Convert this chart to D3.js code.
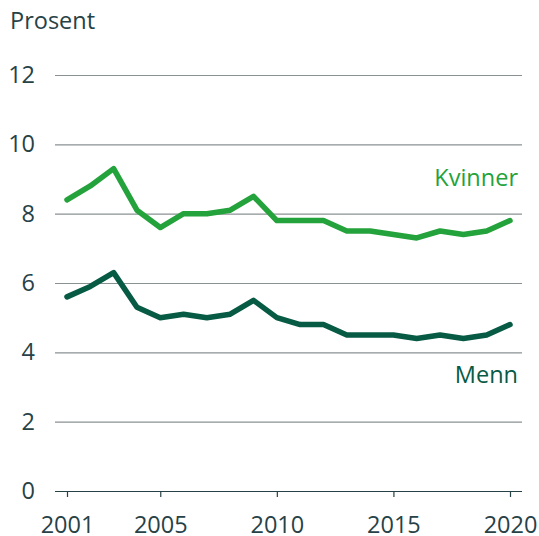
<!DOCTYPE html>
<html>
<head>
<meta charset="utf-8">
<script src="https://cdn.jsdelivr.net/npm/d3@7"></script>
<style>
  body { margin: 0; background: #fff; }
  svg { display: block; font-family: "Open Sans", sans-serif; }
</style>
</head>
<body>
<svg id="chart" width="539" height="536"></svg>
<script>
const years = d3.range(2001, 2021);
const kvinner = [8.4, 8.8, 9.3, 8.1, 7.6, 8.0, 8.0, 8.1, 8.5, 7.8, 7.8, 7.8, 7.5, 7.5, 7.4, 7.3, 7.5, 7.4, 7.5, 7.8];
const menn = [5.6, 5.9, 6.3, 5.3, 5.0, 5.1, 5.0, 5.1, 5.5, 5.0, 4.8, 4.8, 4.5, 4.5, 4.5, 4.4, 4.5, 4.4, 4.5, 4.8];
const yTicks = [0, 2, 4, 6, 8, 10, 12];
const xTicks = [2001, 2005, 2010, 2015, 2020];

const textColor = "#274247";
const fontSize = "23.5px";
const svg = d3.select("#chart");

var x = d3.scaleLinear().domain([2001, 2020]).range([67, 510]);
var y = d3.scaleLinear().domain([0, 12]).range([491, 75]);

// gridlines + y labels
var yAxis = svg.append("g")
  .attr("transform", "translate(522,0)")
  .call(d3.axisLeft(y).tickValues(yTicks).tickSize(467).tickPadding(20));
yAxis.select(".domain").remove();
yAxis.selectAll(".tick line")
  .attr("stroke", d => d === 0 ? textColor : "#8a9194")
  .attr("stroke-width", 1.2);
yAxis.selectAll(".tick text")
  .attr("fill", textColor)
  .style("font-size", fontSize)
  .style("font-family", "'Open Sans', sans-serif");

// x axis
var xAxis = svg.append("g")
  .attr("transform", "translate(0,491)")
  .call(d3.axisBottom(x).tickValues(xTicks).tickFormat(d3.format("d")).tickSize(6).tickPadding(19));
xAxis.select(".domain").remove();
xAxis.selectAll(".tick line").attr("stroke", textColor).attr("stroke-width", 1.2);
xAxis.selectAll(".tick text")
  .attr("fill", textColor)
  .style("font-size", fontSize)
  .style("font-family", "'Open Sans', sans-serif");

svg.append("text")
  .attr("x", 10).attr("y", 29)
  .attr("fill", textColor)
  .style("font-size", fontSize)
  .text("Prosent");

var line = d3.line()
  .x((d, i) => x(years[i]))
  .y(d => y(d));

svg.append("path")
  .datum(kvinner)
  .attr("d", line)
  .attr("fill", "none")
  .attr("stroke", "#24a23b")
  .attr("stroke-width", 5.5)
  .attr("stroke-linejoin", "round")
  .attr("stroke-linecap", "round");

svg.append("path")
  .datum(menn)
  .attr("d", line)
  .attr("fill", "none")
  .attr("stroke", "#075a43")
  .attr("stroke-width", 5.5)
  .attr("stroke-linejoin", "round")
  .attr("stroke-linecap", "round");

svg.append("text")
  .attr("x", 518).attr("y", 186)
  .attr("text-anchor", "end")
  .attr("fill", "#24a23b")
  .style("font-size", fontSize)
  .text("Kvinner");

svg.append("text")
  .attr("x", 518).attr("y", 383)
  .attr("text-anchor", "end")
  .attr("fill", "#075a43")
  .style("font-size", fontSize)
  .text("Menn");
</script>
</body>
</html>
